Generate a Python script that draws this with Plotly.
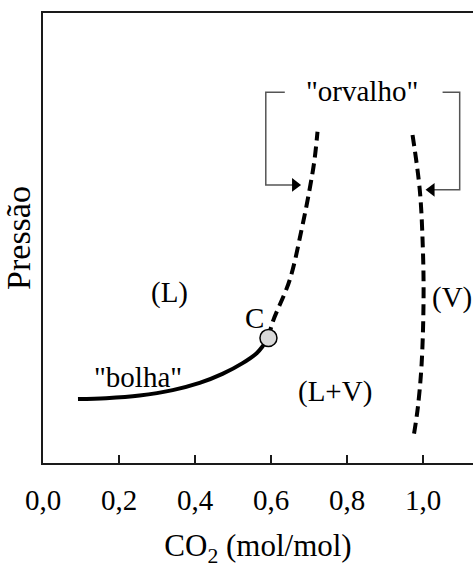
import plotly.graph_objects as go

# Bubble curve ("bolha") – solid
bolha_x = [0.092, 0.166, 0.254, 0.341, 0.412, 0.472, 0.525, 0.562, 0.580, 0.593]
bolha_y = [0.142, 0.144, 0.150, 0.162, 0.178, 0.198, 0.222, 0.244, 0.262, 0.278]

# Dew curve ("orvalho") – left branch from critical point, dashed
orv_l_x = [0.593, 0.604, 0.649, 0.680, 0.701, 0.714, 0.722]
orv_l_y = [0.278, 0.313, 0.407, 0.518, 0.607, 0.673, 0.736]

# Dew curve – right branch near pure CO2, dashed
orv_r_x = [0.972, 0.991, 0.999, 1.001, 0.996, 0.986, 0.975]
orv_r_y = [0.729, 0.607, 0.480, 0.369, 0.222, 0.124, 0.060]

# Critical point C
crit_x = [0.593]
crit_y = [0.278]

# Bracket polylines for the "orvalho" callout (ending at the arrowheads)
brk_l_x = [0.636, 0.586, 0.586, 0.660]
brk_l_y = [0.824, 0.824, 0.618, 0.618]
brk_r_x = [1.051, 1.096, 1.096, 1.025]
brk_r_y = [0.824, 0.824, 0.607, 0.607]
# arrowheads
head_l_x, head_l_y = [0.663], [0.618]
head_r_x, head_r_y = [1.022], [0.607]

tick_vals = [0.0, 0.2, 0.4, 0.6, 0.8, 1.0]
tick_text = ["0,0", "0,2", "0,4", "0,6", "0,8", "1,0"]

FONT = "Liberation Serif, Times New Roman, serif"
GRAY = "#555555"

fig = go.Figure()
fig.add_trace(go.Scatter(x=bolha_x, y=bolha_y, mode="lines", line=dict(color="black", width=4, shape="spline"), hoverinfo="skip"))
fig.add_trace(go.Scatter(x=orv_l_x, y=orv_l_y, mode="lines", line=dict(color="black", width=4, dash="11px,6px", shape="spline"), hoverinfo="skip"))
fig.add_trace(go.Scatter(x=orv_r_x, y=orv_r_y, mode="lines", line=dict(color="black", width=4, dash="11px,6px", shape="spline"), hoverinfo="skip"))
fig.add_trace(go.Scatter(x=brk_l_x, y=brk_l_y, mode="lines", line=dict(color=GRAY, width=1.5), hoverinfo="skip"))
fig.add_trace(go.Scatter(x=brk_r_x, y=brk_r_y, mode="lines", line=dict(color=GRAY, width=1.5), hoverinfo="skip"))
fig.add_trace(go.Scatter(x=head_l_x, y=head_l_y, mode="markers", marker=dict(symbol="triangle-right", size=12, color="black", line=dict(width=0)), hoverinfo="skip"))
fig.add_trace(go.Scatter(x=head_r_x, y=head_r_y, mode="markers", marker=dict(symbol="triangle-left", size=12, color="black", line=dict(width=0)), hoverinfo="skip"))
fig.add_trace(go.Scatter(x=crit_x, y=crit_y, mode="markers", marker=dict(size=17, color="#d9d9d9", line=dict(color="black", width=1.5)), hoverinfo="skip"))

labels = [
    ('"orvalho"', 0.838, 0.827, "center"),
    ("(L)", 0.333, 0.378, "center"),
    ("C", 0.557, 0.322, "center"),
    ('"bolha"', 0.249, 0.191, "center"),
    ("(L+V)", 0.767, 0.158, "center"),
    ("(V)", 1.017, 0.367, "left"),
]
for t, x, y, xa in labels:
    fig.add_annotation(x=x, y=y, xref="x", yref="y", text=t, showarrow=False, xanchor=xa, yanchor="middle",
                       font=dict(family=FONT, size=29, color="black"))

fig.update_layout(
    width=473, height=568,
    margin=dict(l=43, r=0, t=13, b=105),
    paper_bgcolor="white", plot_bgcolor="white",
    showlegend=False,
    font=dict(family=FONT, size=29, color="black"),
)
fig.update_xaxes(range=[0, 1.131], showline=True, mirror=True, linecolor="#1a1a1a", linewidth=2,
                 showgrid=False, zeroline=False, ticks="inside", ticklen=8, tickwidth=1.5, tickcolor="#1a1a1a",
                 tickvals=tick_vals, ticktext=tick_text, ticklabelstandoff=10,
                 tickfont=dict(family=FONT, size=29),
                 title=dict(text="CO<sub>2</sub> (mol/mol)", font=dict(family=FONT, size=31), standoff=37),
                 automargin=False)
fig.update_yaxes(range=[0, 1], showline=True, mirror=False, linecolor="#1a1a1a", linewidth=2,
                 showgrid=False, zeroline=False, showticklabels=False, ticks="",
                 title=dict(text="Pressão", font=dict(family=FONT, size=34), standoff=3),
                 automargin=False)

fig.write_html("out.html")
